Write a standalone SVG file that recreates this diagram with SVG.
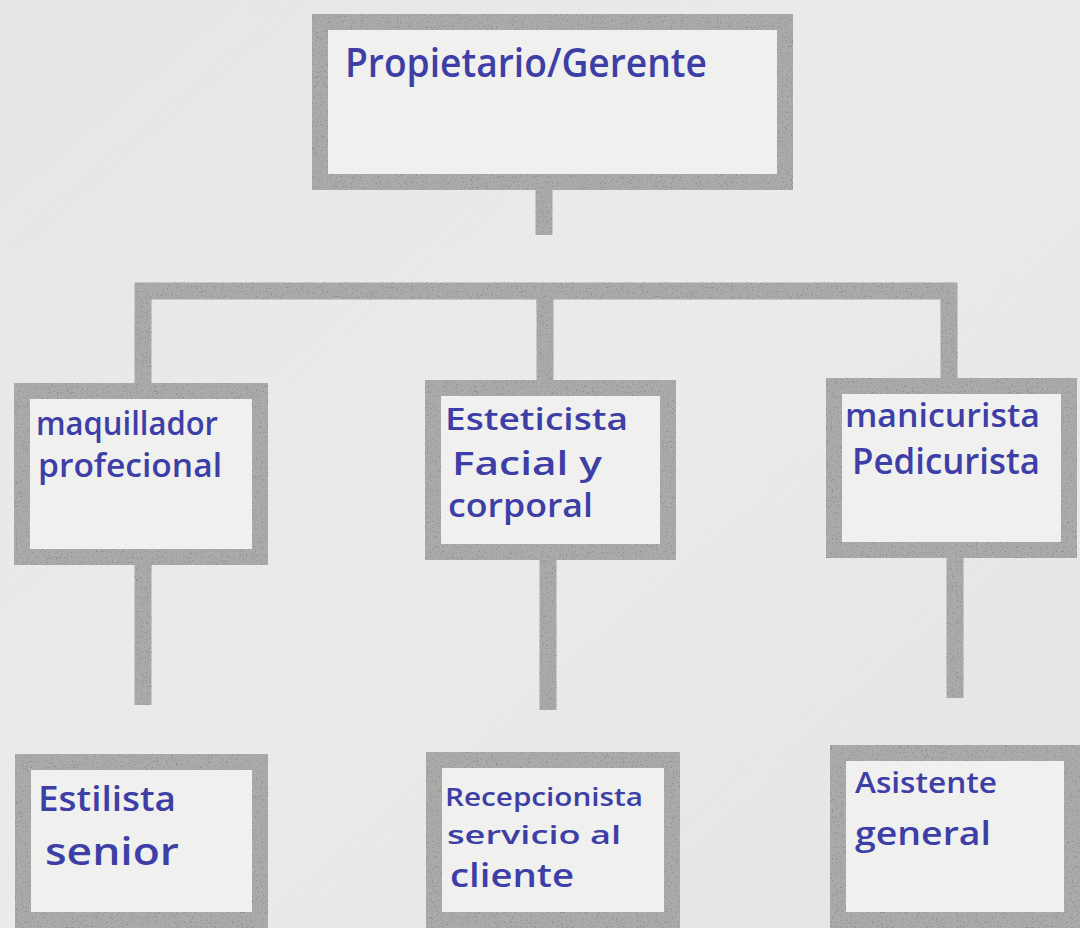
<svg xmlns="http://www.w3.org/2000/svg" width="1080" height="928" viewBox="0 0 1080 928">
  <defs>
    <linearGradient id="paper" x1="0" y1="0" x2="1" y2="1">
      <stop offset="0" stop-color="#e6e6e4"/>
      <stop offset="0.5" stop-color="#ecebea"/>
      <stop offset="1" stop-color="#e4e4e2"/>
    </linearGradient>
    <filter id="grain" filterUnits="userSpaceOnUse" x="0" y="0" width="1080" height="928">
      <feTurbulence type="fractalNoise" baseFrequency="0.8" numOctaves="2" seed="3" result="n"/>
      <feColorMatrix in="n" type="matrix" values="0 0 0 0 0.25  0 0 0 0 0.25  0 0 0 0 0.25  0 0 0 7 -4.3" result="dots"/>
      <feComposite in="dots" in2="SourceGraphic" operator="in" result="d2"/>
      <feMerge><feMergeNode in="SourceGraphic"/><feMergeNode in="d2"/></feMerge>
    </filter>
    <style>
      .inner { fill: #f0f0ee; }
      .frame { fill: none; stroke: #aaaaa8; stroke-width: 16; }
      .conn { fill: none; stroke: #abaaa8; stroke-width: 17; stroke-linejoin: miter; stroke-linecap: butt; }
      .hw { font-family: "Open Sans", "Liberation Sans", sans-serif; font-weight: 600; fill: #3d3fa6; }
    </style>
  </defs>

  <rect x="0" y="0" width="1080" height="928" fill="url(#paper)"/>

  <g id="connectors" filter="url(#grain)">
    <path class="conn" d="M544 190 V235"/>
    <path class="conn" d="M143 383 V291 H949 V378"/>
    <path class="conn" d="M545 291 V380"/>
    <path class="conn" d="M143 565 V705"/>
    <path class="conn" d="M548 560 V710"/>
    <path class="conn" d="M955 558 V698"/>
  </g>

  <g id="propietario">
    <rect class="inner" x="320" y="22" width="465" height="160"/>
    <rect class="frame" x="320" y="22" width="465" height="160" filter="url(#grain)"/>
    <text class="hw" x="345" y="77" font-size="40" textLength="362" lengthAdjust="spacingAndGlyphs">Propietario/Gerente</text>
  </g>

  <g id="maquillador">
    <rect class="inner" x="22" y="391" width="238" height="166"/>
    <rect class="frame" x="22" y="391" width="238" height="166" filter="url(#grain)"/>
    <text class="hw" x="36" y="435" font-size="32" textLength="182" lengthAdjust="spacingAndGlyphs">maquillador</text>
    <text class="hw" x="38" y="477" font-size="32" textLength="184" lengthAdjust="spacingAndGlyphs">profecional</text>
  </g>

  <g id="esteticista">
    <rect class="inner" x="433" y="388" width="235" height="164"/>
    <rect class="frame" x="433" y="388" width="235" height="164" filter="url(#grain)"/>
    <text class="hw" x="445" y="430" font-size="31" textLength="183" lengthAdjust="spacingAndGlyphs">Esteticista</text>
    <text class="hw" x="452" y="475" font-size="33" textLength="150" lengthAdjust="spacingAndGlyphs">Facial y</text>
    <text class="hw" x="448" y="517" font-size="32" textLength="145" lengthAdjust="spacingAndGlyphs">corporal</text>
  </g>

  <g id="manicurista">
    <rect class="inner" x="834" y="386" width="235" height="164"/>
    <rect class="frame" x="834" y="386" width="235" height="164" filter="url(#grain)"/>
    <text class="hw" x="845" y="427" font-size="32" textLength="195" lengthAdjust="spacingAndGlyphs">manicurista</text>
    <text class="hw" x="852" y="474" font-size="36" textLength="188" lengthAdjust="spacingAndGlyphs">Pedicurista</text>
  </g>

  <g id="estilista">
    <rect class="inner" x="23" y="762" width="237" height="158"/>
    <rect class="frame" x="23" y="762" width="237" height="158" filter="url(#grain)"/>
    <text class="hw" x="38" y="811" font-size="34" textLength="138" lengthAdjust="spacingAndGlyphs">Estilista</text>
    <text class="hw" x="45" y="865" font-size="38" textLength="134" lengthAdjust="spacingAndGlyphs">senior</text>
  </g>

  <g id="recepcionista">
    <rect class="inner" x="434" y="760" width="238" height="160"/>
    <rect class="frame" x="434" y="760" width="238" height="160" filter="url(#grain)"/>
    <text class="hw" x="445" y="806" font-size="26" textLength="198" lengthAdjust="spacingAndGlyphs">Recepcionista</text>
    <text class="hw" x="447" y="844" font-size="26" textLength="174" lengthAdjust="spacingAndGlyphs">servicio al</text>
    <text class="hw" x="450" y="887" font-size="32" textLength="124" lengthAdjust="spacingAndGlyphs">cliente</text>
  </g>

  <g id="asistente">
    <rect class="inner" x="838" y="753" width="234" height="167"/>
    <rect class="frame" x="838" y="753" width="234" height="167" filter="url(#grain)"/>
    <text class="hw" x="855" y="793" font-size="28" textLength="142" lengthAdjust="spacingAndGlyphs">Asistente</text>
    <text class="hw" x="855" y="845" font-size="32" textLength="136" lengthAdjust="spacingAndGlyphs">general</text>
  </g>
</svg>
